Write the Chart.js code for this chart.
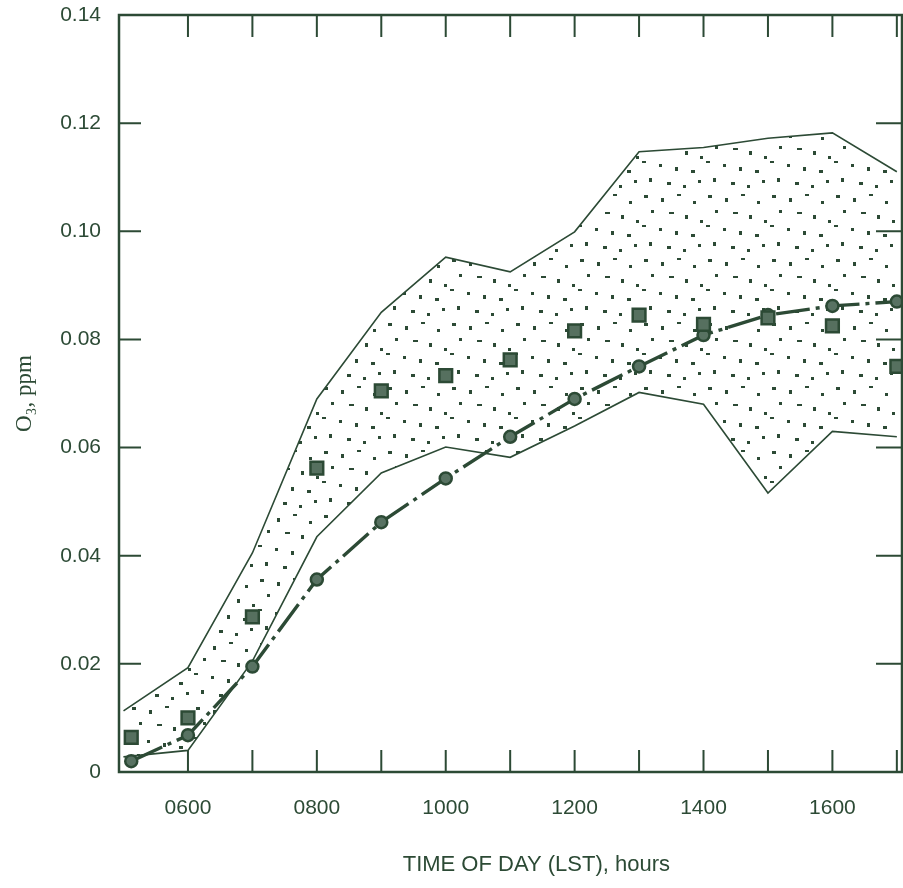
<!DOCTYPE html>
<html>
<head>
<meta charset="utf-8">
<script src="https://cdn.jsdelivr.net/npm/chart.js@4/dist/chart.umd.min.js"></script>
<style>
  html, body { margin: 0; padding: 0; background: #ffffff; }
  #wrap { width: 903px; height: 888px; }
</style>
</head>
<body>
<div id="wrap"><canvas id="chart" width="903" height="888"></canvas></div>
<script>
// time of day, decimal hours (LST)
const hours = [5, 6, 7, 8, 9, 10, 11, 12, 13, 14, 15, 16, 17];
// the 0500 markers sit a little right of the axis in the original
const markerHours = [5.12, 6, 7, 8, 9, 10, 11, 12, 13, 14, 15, 16, 17];

// O3, ppm
const upperEnvelope = [0.0113, 0.0193, 0.0405, 0.0690, 0.0850, 0.0952, 0.0925, 0.0999, 0.1147, 0.1155, 0.1172, 0.1182, 0.1110];
const lowerEnvelope = [0.0028, 0.0040, 0.0205, 0.0435, 0.0553, 0.0601, 0.0582, 0.0640, 0.0702, 0.0680, 0.0516, 0.0630, 0.0620];
const circleSeries  = [0.0020, 0.0068, 0.0195, 0.0356, 0.0462, 0.0543, 0.0620, 0.0690, 0.0750, 0.0808, 0.0845, 0.0862, 0.0870];
const squareSeries  = [0.0064, 0.0100, 0.0287, 0.0562, 0.0705, 0.0733, 0.0762, 0.0816, 0.0845, 0.0828, 0.0840, 0.0825, 0.0750];

const labelHours = [6, 8, 10, 12, 14, 16];
const tickHours = [6, 7, 8, 9, 10, 11, 12, 13, 14, 15, 16, 17];
const xTitle = 'TIME OF DAY (LST), hours';
const yTitle = 'O\u2083, ppm';

const ink = '#2c4a35';
const sans = "'Liberation Sans', Arial, sans-serif";

function pts(xs, ys) {
    return xs.map((h, i) => ({ x: h, y: ys[i] }));
}

// stippled band between the envelopes (hand placed specks, tile repeats)
function stipple() {
    const c = document.createElement('canvas');
    c.width = 64; c.height = 64;
    const g = c.getContext('2d');
    g.fillStyle = ink;
    const specks = [[4,3,4,3],[21,6,3,4],[37,2,4,2],[53,9,3,3],[11,18,3,3],[29,20,5,2],
                    [45,23,3,4],[60,28,3,3],[2,33,4,2],[19,36,3,3],[35,39,3,4],[51,42,4,3],
                    [9,50,3,4],[27,54,4,3],[43,57,3,3],[58,52,3,3]];
    specks.forEach(s => g.fillRect(s[0], s[1], s[2], s[3]));
    return g.createPattern(c, 'repeat');
}

function noPad(s) {
    s.paddingLeft = 0; s.paddingRight = 0; s.paddingTop = 0; s.paddingBottom = 0;
}

// frame, inward ticks on all four sides, x title
const frameAndTicks = {
    id: 'frameAndTicks',
    afterDatasetsDraw(chart) {
        const { ctx, chartArea: a, scales: { x, y } } = chart;
        ctx.save();
        ctx.strokeStyle = ink;
        ctx.lineWidth = 2.5;
        ctx.strokeRect(a.left, a.top, a.right - a.left, a.bottom - a.top);
        ctx.lineWidth = 2;
        ctx.beginPath();
        tickHours.forEach(h => {
            const px = x.getPixelForValue(h);
            ctx.moveTo(px, a.bottom); ctx.lineTo(px, a.bottom - 22);
            ctx.moveTo(px, a.top); ctx.lineTo(px, a.top + 22);
        });
        y.ticks.forEach(t => {
            if (t.value <= 0 || t.value >= 0.139) return;
            const py = y.getPixelForValue(t.value);
            ctx.moveTo(a.left, py); ctx.lineTo(a.left + 22, py);
            ctx.moveTo(a.right, py); ctx.lineTo(a.right - 26, py);
        });
        ctx.stroke();

        ctx.fillStyle = ink;
        ctx.font = '22px ' + sans;
        ctx.textAlign = 'center';
        ctx.textBaseline = 'middle';
        ctx.fillText(xTitle, a.left + (a.right - a.left) * 0.533, chart.height - 23);
        ctx.restore();
    }
};

new Chart(document.getElementById('chart'), {
    type: 'line',
    data: {
        datasets: [
            {
                label: 'lower',
                data: pts(hours, lowerEnvelope),
                borderColor: ink,
                borderWidth: 1.6,
                pointRadius: 0,
                fill: false,
                order: 4
            },
            {
                label: 'upper',
                data: pts(hours, upperEnvelope),
                borderColor: ink,
                borderWidth: 1.6,
                pointRadius: 0,
                backgroundColor: stipple(),
                fill: '-1',
                order: 3
            },
            {
                label: 'circles',
                data: pts(markerHours, circleSeries),
                borderColor: ink,
                borderWidth: 3.4,
                borderDash: [34, 6, 4, 6],
                pointStyle: 'circle',
                pointRadius: 6,
                pointBorderWidth: 2.5,
                pointBorderColor: ink,
                pointBackgroundColor: '#587262',
                fill: false,
                order: 2
            },
            {
                label: 'squares',
                data: pts(markerHours, squareSeries),
                showLine: false,
                pointStyle: 'rect',
                pointRadius: 9,
                pointBorderWidth: 2.5,
                pointBorderColor: ink,
                pointBackgroundColor: '#56705f',
                fill: false,
                order: 1
            }
        ]
    },
    options: {
        responsive: false,
        animation: false,
        clip: false,
        layout: { autoPadding: false, padding: { top: 15, right: 1, left: 0, bottom: 0 } },
        plugins: {
            legend: { display: false },
            tooltip: { enabled: false }
        },
        scales: {
            x: {
                type: 'linear',
                min: 4.93,
                max: 17.08,
                afterBuildTicks: s => { s.ticks = hours.map(h => ({ value: h })); },
                afterFit: s => { s.height = 116; noPad(s); },
                grid: { display: false, drawTicks: false },
                border: { display: false },
                ticks: {
                    padding: 24,
                    color: ink,
                    font: { family: sans, size: 21 },
                    maxRotation: 0,
                    autoSkip: false,
                    callback: v => labelHours.includes(v) ? String(v * 100).padStart(4, '0') : ''
                }
            },
            y: {
                min: 0,
                max: 0.14,
                afterFit: s => { s.width = 119; noPad(s); },
                grid: { display: false, drawTicks: false },
                border: { display: false },
                ticks: {
                    stepSize: 0.02,
                    padding: 18,
                    color: ink,
                    font: { family: sans, size: 21 },
                    callback: v => v === 0 ? '0' : v.toFixed(2)
                },
                title: {
                    display: true,
                    text: yTitle,
                    color: ink,
                    font: { family: "'Liberation Serif', serif", size: 23 },
                    padding: { top: 11, bottom: 0 }
                }
            }
        }
    },
    plugins: [frameAndTicks]
});
</script>
</body>
</html>
